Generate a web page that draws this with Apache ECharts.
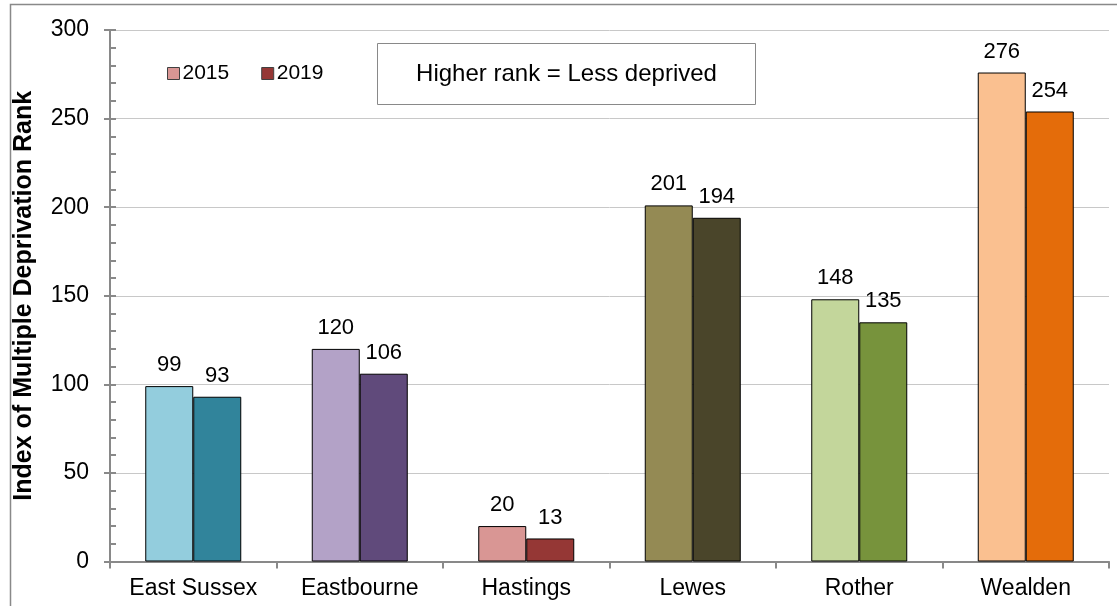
<!DOCTYPE html>
<html>
<head>
<meta charset="utf-8">
<script src="https://cdn.jsdelivr.net/npm/echarts@6/dist/echarts.min.js"></script>
<style>
  html, body { margin: 0; padding: 0; background: #fff; }
  #chart { width: 1117px; height: 606px; }
</style>
</head>
<body>
<div id="chart"></div>
<script>
// Index of Multiple Deprivation rank by district, 2015 vs 2019
const districts = ['East Sussex', 'Eastbourne', 'Hastings', 'Lewes', 'Rother', 'Wealden'];
const rank2015 = [99, 120, 20, 201, 148, 276];
const rank2019 = [93, 106, 13, 194, 135, 254];
const yTicks = [0, 50, 100, 150, 200, 250, 300];

// each district keeps its own light/dark pair
const light = ['#93CDDD', '#B3A2C7', '#D99694', '#948A54', '#C3D69B', '#FAC090'];
const dark  = ['#31849B', '#604A7B', '#953735', '#4A452A', '#77933C', '#E46C0A'];

const font = 'Liberation Sans, Arial, sans-serif';
const axisGrey = '#898989';
const chart = echarts.init(document.getElementById('chart'));

function barData(values, colors) {
  return values.map((v, i) => ({ value: v, itemStyle: { color: colors[i] } }));
}

const labelStyle = {
  show: true, position: 'top', distance: 10,
  fontFamily: font, fontSize: 22, color: '#000'
};

const yRange = { min: yTicks[0], max: yTicks[yTicks.length - 1], interval: yTicks[1] - yTicks[0] };

chart.setOption({
  animation: false,
  textStyle: { fontFamily: font },
  grid: { left: 110, top: 30, right: 8, bottom: 44.5, containLabel: false },
  legend: {
    left: 167, top: 63, padding: 0, itemWidth: 12, itemHeight: 12, itemGap: 32,
    icon: 'rect',
    textStyle: { fontFamily: font, fontSize: 21, color: '#000', padding: [0, 0, 0, -2] },
    data: [
      { name: '2015', itemStyle: { color: '#D99694', borderColor: '#404040', borderWidth: 1 } },
      { name: '2019', itemStyle: { color: '#953735', borderColor: '#404040', borderWidth: 1 } }
    ]
  },
  xAxis: {
    type: 'category',
    data: districts,
    axisLine: { lineStyle: { color: axisGrey, width: 2 } },
    axisTick: { show: true, length: 7, lineStyle: { color: axisGrey, width: 2 } },
    axisLabel: { fontFamily: font, fontSize: 23, color: '#000', margin: 16 }
  },
  yAxis: [
    {
      type: 'value', ...yRange,
      name: 'Index of Multiple Deprivation Rank',
      nameLocation: 'middle', nameGap: 73,
      nameTextStyle: { fontFamily: font, fontSize: 25, fontWeight: 'bold', color: '#000' },
      axisLine: { show: true, lineStyle: { color: axisGrey, width: 2 } },
      axisTick: { show: true, length: 6, lineStyle: { color: axisGrey, width: 2 } },
      axisLabel: { fontFamily: font, fontSize: 23, color: '#000', margin: 21 },
      splitLine: { lineStyle: { color: '#C8C8C8', width: 1 } }
    },
    {
      // inner half of the crossing major ticks plus the inside minor ticks
      type: 'value', ...yRange, position: 'left', offset: 0,
      axisLine: { show: false },
      axisLabel: { show: false },
      splitLine: { show: false },
      axisTick: { show: true, inside: true, length: 6, lineStyle: { color: axisGrey, width: 2 } },
      minorTick: { show: true, splitNumber: 5, length: 6, lineStyle: { color: axisGrey, width: 2 } }
    }
  ],
  series: [
    {
      name: '2015', type: 'bar', barGap: '0%', barWidth: 48, yAxisIndex: 0,
      data: barData(rank2015, light),
      itemStyle: { borderColor: '#000', borderWidth: 1 },
      label: labelStyle
    },
    {
      name: '2019', type: 'bar', barGap: '0%', barWidth: 48, yAxisIndex: 0,
      data: barData(rank2019, dark),
      itemStyle: { borderColor: '#000', borderWidth: 1 },
      label: labelStyle
    }
  ],
  graphic: [
    // chart frame
    { type: 'rect', left: 8, top: 2, shape: { width: 1130, height: 620 },
      style: { fill: 'none', stroke: axisGrey, lineWidth: 1.5 }, silent: true, z: 100 },
    // note box
    { type: 'group', left: 377, top: 43, z: 100, children: [
      { type: 'rect', shape: { x: 0, y: 0, width: 378, height: 61 },
        style: { fill: '#fff', stroke: axisGrey, lineWidth: 1 } },
      { type: 'text', x: 189, y: 31,
        style: { text: 'Higher rank = Less deprived', font: '24px ' + font, fill: '#000',
                 align: 'center', verticalAlign: 'middle' } }
    ]}
  ]
});
</script>
</body>
</html>
